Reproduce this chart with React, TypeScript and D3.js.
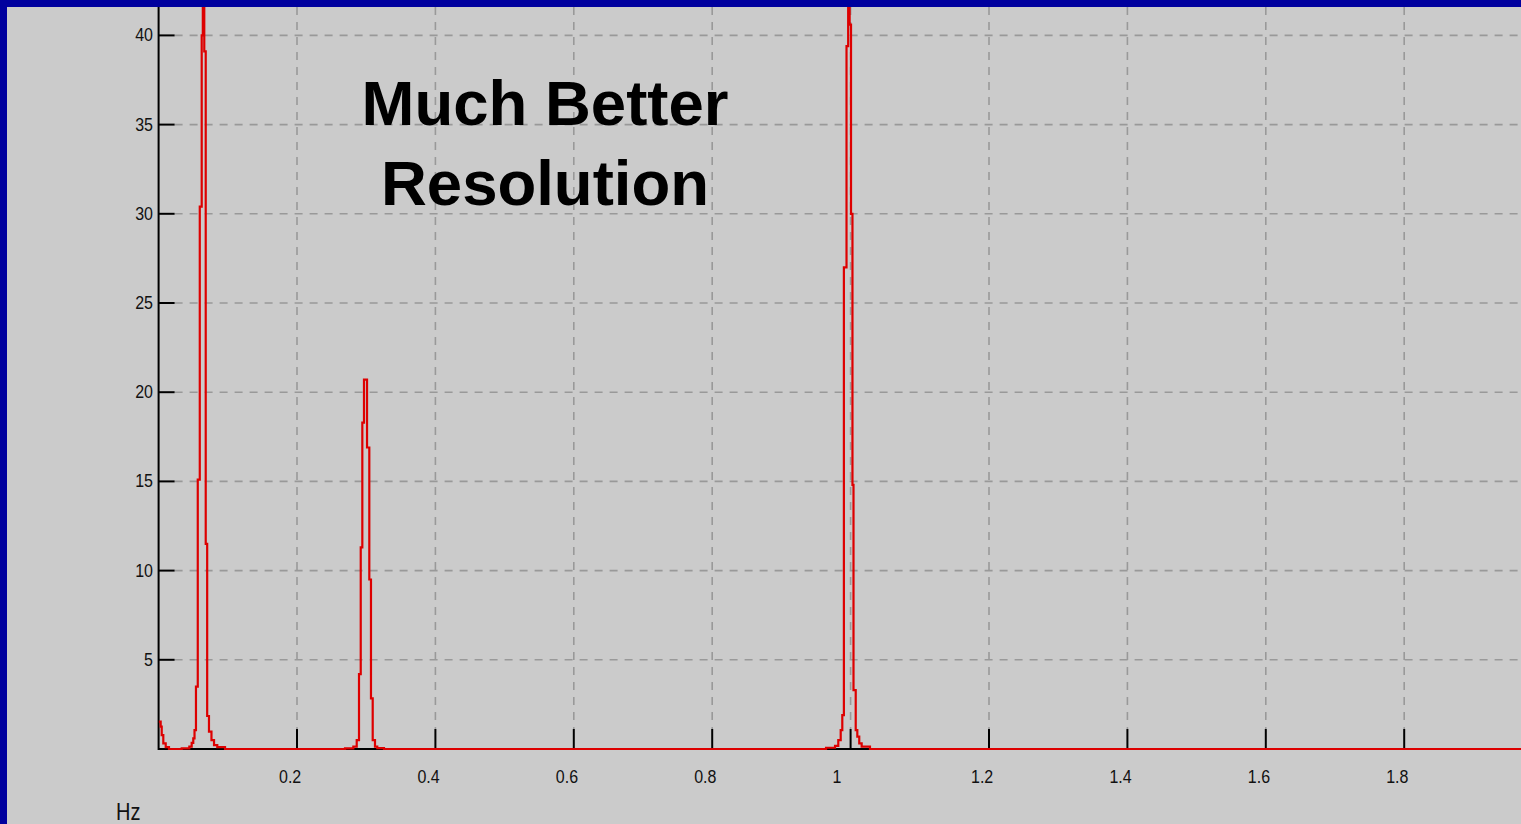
import React from "react";
import * as d3 from "d3";

// ---- data (frequency in Hz, amplitude) ----
const xTicks = [0.2, 0.4, 0.6, 0.8, 1.0, 1.2, 1.4, 1.6, 1.8];
const xTickLabels = ["0.2", "0.4", "0.6", "0.8", "1", "1.2", "1.4", "1.6", "1.8"];
const yTicks = [5, 10, 15, 20, 25, 30, 35, 40];

const dcFreq = [0.0, 0.003, 0.0045, 0.0068, 0.0103, 0.015];
const dcAmp = [1.53, 1.25, 0.78, 0.32, 0.1, 0];

const peak1Freq = [0.0334, 0.0444, 0.0478, 0.0501, 0.0519, 0.054, 0.0566, 0.0595, 0.0623, 0.0639, 0.066, 0.0681, 0.0702, 0.0728, 0.0764, 0.0801, 0.0848, 0.096];
const peak1Amp = [0.04, 0.13, 0.34, 0.6, 1.06, 3.5, 15.1, 30.4, 40.0, 48, 39.1, 11.5, 1.85, 0.97, 0.5, 0.22, 0.1, 0];

const peak2Freq = [0.2694, 0.2814, 0.2863, 0.2896, 0.2921, 0.2944, 0.2968, 0.3012, 0.3045, 0.3069, 0.3094, 0.3127, 0.316, 0.3257];
const peak2Amp = [0.03, 0.13, 0.5, 4.2, 11.3, 18.3, 20.7, 16.9, 9.5, 2.84, 0.5, 0.13, 0.05, 0];

const peak3Freq = [0.9645, 0.9775, 0.9822, 0.9857, 0.988, 0.9903, 0.9941, 0.9965, 0.9986, 1.0006, 1.0027, 1.0042, 1.0074, 1.0097, 1.0125, 1.016, 1.028];
const peak3Amp = [0.07, 0.18, 0.5, 1.06, 1.9, 27.0, 39.4, 48, 40.6, 30.0, 14.8, 3.3, 1.06, 0.69, 0.32, 0.13, 0];

const endFreq = [1.97];
const endAmp = [0];

const titleLines = ["Much Better", "Resolution"];
const xUnit = "Hz";

const W = 1521;
const H = 824;

export default function App() {
  const x = d3.scaleLinear().domain([0, 2]).range([158.6, 158.6 + 1384]);
  const y = d3.scaleLinear().domain([0, 40]).range([749, 749 - 713.6]);

  const pts: [number, number][] = [];
  const add = (f: number[], a: number[]) => f.forEach((v, i) => pts.push([v, a[i]]));
  add(dcFreq, dcAmp);
  add(peak1Freq, peak1Amp);
  add(peak2Freq, peak2Amp);
  add(peak3Freq, peak3Amp);
  add(endFreq, endAmp);

  const line = d3
    .line<[number, number]>()
    .x((d) => x(d[0]))
    .y((d) => y(d[1]))
    .curve(d3.curveStepAfter);

  const x0 = x(0);
  const yBase = y(0);
  const top = 7;
  const font = "'Liberation Sans', Arial, sans-serif";

  return (
    <svg
      width={W}
      height={H}
      style={{ position: "absolute", left: 0, top: 0, display: "block" }}
    >
      <defs>
        <clipPath id="plotClip">
          <rect x={x0} y={top} width={W - x0} height={yBase - top + 3} />
        </clipPath>
      </defs>
      <rect x={0} y={0} width={W} height={H} fill="#cbcbcb" />

      {/* horizontal grid */}
      {yTicks.map((t) => (
        <line
          key={"hg" + t}
          x1={x0 + 16}
          x2={W}
          y1={y(t)}
          y2={y(t)}
          stroke="#999999"
          strokeWidth={1.6}
          strokeDasharray="8 7"
        />
      ))}
      {/* vertical grid */}
      {xTicks.map((t) => (
        <line
          key={"vg" + t}
          x1={x(t)}
          x2={x(t)}
          y1={top}
          y2={yBase - 20}
          stroke="#999999"
          strokeWidth={1.6}
          strokeDasharray="8 7"
        />
      ))}

      {/* axes */}
      <line x1={x0} x2={x0} y1={top} y2={yBase + 1} stroke="#000" strokeWidth={2} />
      <line x1={x0} x2={W} y1={yBase} y2={yBase} stroke="#000" strokeWidth={2} />
      {yTicks.map((t) => (
        <line key={"yt" + t} x1={x0} x2={x0 + 16} y1={y(t)} y2={y(t)} stroke="#000" strokeWidth={2} />
      ))}
      {xTicks.map((t) => (
        <line key={"xt" + t} x1={x(t)} x2={x(t)} y1={yBase - 20} y2={yBase} stroke="#000" strokeWidth={2} />
      ))}

      {/* tick labels */}
      {yTicks.map((t) => (
        <text
          key={"yl" + t}
          x={0}
          y={0}
          transform={`translate(153,${y(t) + 6}) scale(1,1.1)`}
          textAnchor="end"
          fontFamily={font}
          fontSize={16}
          fill="#111"
        >
          {t}
        </text>
      ))}
      {xTicks.map((t, i) => (
        <text
          key={"xl" + t}
          x={0}
          y={0}
          transform={`translate(${x(t) - 18},783) scale(1,1.1)`}
          textAnchor="start"
          fontFamily={font}
          fontSize={16}
          fill="#111"
        >
          {xTickLabels[i]}
        </text>
      ))}
      <text
        x={0}
        y={0}
        transform={`translate(116,820) scale(1,1.2)`}
        fontFamily={font}
        fontSize={20}
        fill="#111"
      >
        {xUnit}
      </text>

      {/* spectrum trace */}
      <g clipPath="url(#plotClip)">
        <path d={line(pts) || ""} fill="none" stroke="#dd0000" strokeWidth={2.2} strokeLinejoin="miter" />
      </g>

      {/* title */}
      {titleLines.map((s, i) => (
        <text
          key={s}
          x={545}
          y={125 + i * 80}
          textAnchor="middle"
          fontFamily={font}
          fontWeight="bold"
          fontSize={63.5}
          fill="#000"
        >
          {s}
        </text>
      ))}

      {/* blue frame */}
      <rect x={0} y={0} width={W} height={7} fill="#00009e" />
      <rect x={0} y={0} width={7} height={H} fill="#00009e" />
    </svg>
  );
}
